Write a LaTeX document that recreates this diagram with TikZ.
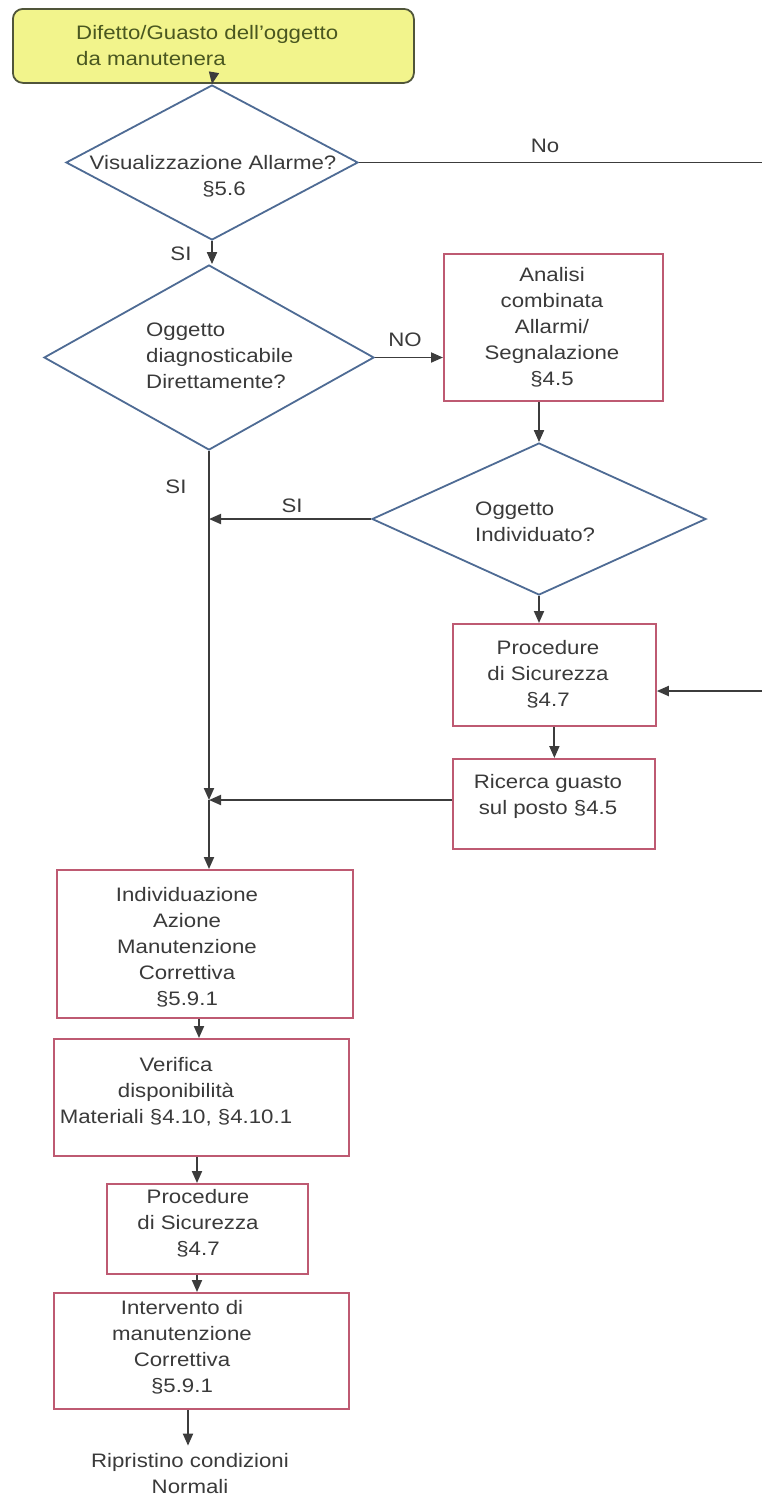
\documentclass[tikz,border=0pt]{standalone}
\usepackage{fontspec}
\setmainfont{Liberation Sans}[FakeStretch=1.14]
\usetikzlibrary{shapes.geometric,arrows.meta}
\definecolor{boxred}{HTML}{BE5A72}
\definecolor{diablue}{HTML}{4E6B94}
\definecolor{linegray}{HTML}{3C3C3C}
\definecolor{txtgray}{HTML}{3A3A3A}
\definecolor{startfill}{HTML}{F2F48C}
\definecolor{startdraw}{HTML}{50553A}
\definecolor{starttext}{HTML}{4A5720}
\tikzset{
  x=1pt, y=-1pt,
  txt/.style={font=\fontsize{19.5}{26}\selectfont, text=txtgray, inner sep=0pt, align=center},
  procbox/.style={draw=boxred, line width=1.8pt, fill=white, rectangle, inner sep=0pt, anchor=north west},
  startbox/.style={draw=startdraw, line width=1.8pt, fill=startfill, rectangle, rounded corners=10pt, inner sep=0pt, anchor=north west},
  dia/.style={draw=diablue, line width=1.8pt, fill=white, diamond, inner sep=0pt},
  conn/.style={draw=linegray, line width=1.9pt, -{Triangle[length=12pt,width=10pt]}},
  plain/.style={draw=linegray, line width=1.9pt},
}
\begin{document}
\begin{tikzpicture}
\useasboundingbox (0,0) rectangle (762,1497);
% start
\node[startbox, minimum width=401pt, minimum height=74pt] (start) at (12,8) {};
\node[txt, text=starttext, align=left, anchor=west] (startt) at (76,45.5) {Difetto/Guasto dell'oggetto\\da manutenera};
% decision 1
\node[dia, minimum width=292pt, minimum height=155pt] (d1) at (212,162.5) {};
\node[txt] (d1t) at (213,176) {Visualizzazione Allarme?\\\hspace*{22pt}§5.6};
% decision 2
\node[dia, minimum width=330pt, minimum height=185pt] (d2) at (209,357.5) {};
\node[txt, align=left, anchor=west] (d2t) at (146,356) {Oggetto\\diagnosticabile\\Direttamente?};
% analisi
\node[procbox, minimum width=219pt, minimum height=147pt] (analisi) at (443,253) {};
\node[txt] (analisit) at (552,327) {Analisi\\combinata\\Allarmi/\\Segnalazione\\§4.5};
% decision 3
\node[dia, minimum width=334pt, minimum height=152pt] (d3) at (539,519) {};
\node[txt, align=left, anchor=west] (d3t) at (475,522) {Oggetto\\Individuato?};
% procedure 1
\node[procbox, minimum width=203pt, minimum height=102pt] (proc1) at (452,623) {};
\node[txt] (proc1t) at (548,674) {Procedure\\di Sicurezza\\§4.7};
% ricerca
\node[procbox, minimum width=202pt, minimum height=90pt] (ricerca) at (452,758) {};
\node[txt] (ricercat) at (548,796) {Ricerca guasto\\sul posto §4.5};
% individuazione
\node[procbox, minimum width=296pt, minimum height=148pt] (indiv) at (56,869) {};
\node[txt] (indivt) at (187,947) {Individuazione\\Azione\\Manutenzione\\Correttiva\\§5.9.1};
% verifica
\node[procbox, minimum width=295pt, minimum height=117pt] (verif) at (53,1038) {};
\node[txt] (verift) at (176,1092) {Verifica\\disponibilità\\Materiali §4.10, §4.10.1};
% procedure 2
\node[procbox, minimum width=201pt, minimum height=90pt] (proc2) at (106,1183) {};
\node[txt] (proc2t) at (198,1223) {Procedure\\di Sicurezza\\§4.7};
% intervento
\node[procbox, minimum width=295pt, minimum height=116pt] (interv) at (53,1292) {};
\node[txt] (intervt) at (182,1347) {Intervento di\\manutenzione\\Correttiva\\§5.9.1};
% ripristino
\node[txt] (ripr) at (190,1474) {Ripristino condizioni\\Normali};
% labels
\node[txt] (lno) at (545,146) {No};
\node[txt] (lsi1) at (181,254) {SI};
\node[txt] (lNO) at (405,340) {NO};
\node[txt] (lsi2) at (176,487) {SI};
\node[txt] (lsi3) at (292,506) {SI};
% helper coordinates
\coordinate (j1) at (209,519);
\coordinate (j2) at (209,800);
\coordinate (eTop) at (763,162.5);
\coordinate (eBot) at (763,691);
\coordinate (a1) at (199,0);
\coordinate (a2) at (197,0);
\coordinate (a3) at (188,0);
% connectors
\draw[conn] ([yshift=8pt]start.south) -- (d1.north);
\draw[plain] (d1.east) -- (eTop) -- (eBot);
\draw[conn] (eBot) -- (eBot -| proc1.east);
\draw[conn] (d1.south) -- (d1.south |- d2.north);
\draw[conn] (d2.east) -- (d2.east -| analisi.west);
\draw[conn] (d3.north |- analisi.south) -- (d3.north);
\draw[conn] (d3.west) -- (j1);
\draw[conn] (d3.south) -- (d3.south |- proc1.north);
\draw[conn] (proc1.south) -- (proc1.south |- ricerca.north);
\draw[conn] (ricerca.west |- j2) -- (j2);
\draw[conn] (d2.south) -- (j2);
\draw[conn] (j2) -- (j2 |- indiv.north);
\draw[conn] (indiv.south -| a1) -- (verif.north -| a1);
\draw[conn] (verif.south -| a2) -- (proc2.north -| a2);
\draw[conn] (proc2.south -| a2) -- (interv.north -| a2);
\draw[conn] (interv.south -| a3) -- ([yshift=8pt]ripr.north -| a3);
\end{tikzpicture}
\end{document}
